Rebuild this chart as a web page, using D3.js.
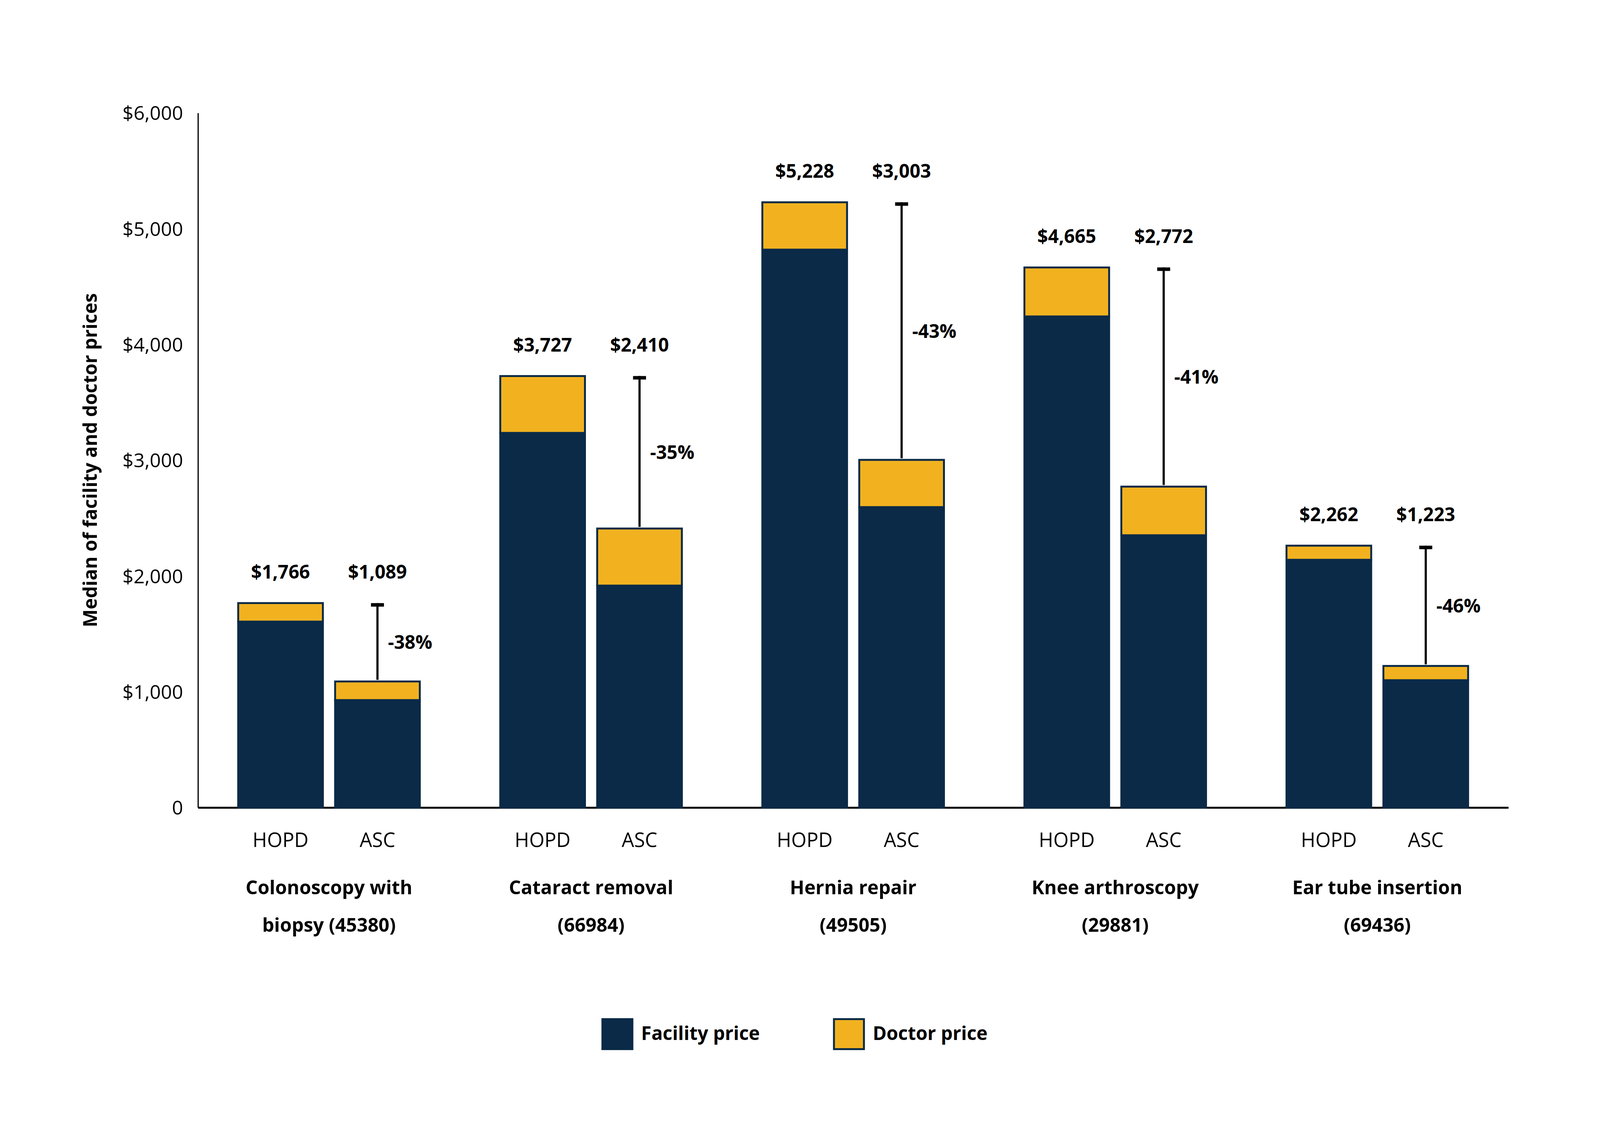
<!DOCTYPE html>
<html>
<head>
<meta charset="utf-8">
<script src="https://cdn.jsdelivr.net/npm/d3@7"></script>
<style>
  html, body { margin: 0; padding: 0; background: #ffffff; width: 100%; height: 100%; overflow: hidden; }
  svg { display: block; }
  text { font-family: "Open Sans", "Noto Sans", sans-serif; fill: #000; }
</style>
</head>
<body>
<svg id="chart"></svg>
<script>
// ---------- DATA ----------
const procedures = [
  ["Colonoscopy with", "biopsy (45380)"],
  ["Cataract removal", "(66984)"],
  ["Hernia repair", "(49505)"],
  ["Knee arthroscopy", "(29881)"],
  ["Ear tube insertion", "(69436)"]
];
const settings = ["HOPD", "ASC"];
const hopdFacility = [1606, 3236, 4819, 4242, 2140];
const hopdDoctor   = [160, 491, 409, 423, 122];
const ascFacility  = [928, 1917, 2595, 2352, 1100];
const ascDoctor    = [161, 493, 408, 420, 123];
const yTicks = [0, 1000, 2000, 3000, 4000, 5000, 6000];
const seriesNames = ["Facility price", "Doctor price"];

// ---------- LAYOUT (design space 6668 x 2918, scaled to the actual window) ----------
const NAVY = "#0a2a47";
const GOLD = "#f2b220";
const W = window.innerWidth || 6668, H = window.innerHeight || 2918;
const sx = W / 6668, sy = H / 2918, fs = sx;
const X = v => v * sx, Y = v => v * sy;

const svg = d3.select("#chart").attr("width", W).attr("height", H);
svg.append("rect").attr("width", W).attr("height", H).attr("fill", "#fff");

const plotLeft = X(825), plotRight = X(6286), plotTop = Y(289), plotBottom = Y(2067);

const groupIdx = procedures.map((d, i) => i);
const x = d3.scaleBand().domain(groupIdx).range([plotLeft, plotRight])
  .paddingInner(0.307).paddingOuter(0.1535);
const xi = d3.scaleBand().domain(settings).range([0, x.bandwidth()]).paddingInner(0.126).paddingOuter(0);
const y = d3.scaleLinear().domain([0, 6000]).range([plotBottom, plotTop]);

const rows = groupIdx.map(i => ({
  i,
  bars: [
    { setting: "HOPD", facility: hopdFacility[i], doctor: hopdDoctor[i] },
    { setting: "ASC", facility: ascFacility[i], doctor: ascDoctor[i] }
  ]
}));
rows.forEach(r => r.bars.forEach(b => b.total = b.facility + b.doctor));

const CAP = "0.357em"; // shift so that caps are vertically centred on y

// ---------- AXES ----------
const yAxis = d3.axisLeft(y).tickValues(yTicks)
  .tickFormat(d => d === 0 ? "0" : "$" + d3.format(",")(d))
  .tickSize(0).tickSizeOuter(0).tickPadding(X(62));
const gy = svg.append("g").attr("transform", `translate(${plotLeft},0)`).call(yAxis);
gy.select(".domain").attr("stroke", "#000").attr("stroke-width", 5 * fs);
gy.selectAll(".tick text")
  .style("font-family", '"Open Sans", sans-serif')
  .attr("font-size", 81 * fs).attr("font-weight", 500).attr("fill", "#000").attr("dy", CAP);

const xAxis = d3.axisBottom(x).tickSize(0).tickSizeOuter(0).tickFormat("");
const gx = svg.append("g").attr("transform", `translate(0,${plotBottom})`).call(xAxis);
gx.select(".domain").attr("stroke", "#000").attr("stroke-width", 5 * Math.max(sy, fs) );

svg.append("text")
  .attr("transform", `translate(${X(375)},${Y(1178)}) rotate(-90)`)
  .attr("text-anchor", "middle").attr("dy", CAP)
  .attr("font-size", 79 * fs).attr("font-weight", 700)
  .text("Median of facility and doctor prices");

// ---------- BARS ----------
const groups = svg.append("g").selectAll("g.grp").data(rows).join("g")
  .attr("class", "grp").attr("transform", d => `translate(${x(d.i)},0)`);

const bar = groups.selectAll("g.bar").data(d => d.bars).join("g").attr("class", "bar");

bar.append("rect")
  .attr("x", d => xi(d.setting)).attr("width", xi.bandwidth())
  .attr("y", d => y(d.facility)).attr("height", d => y(0) - y(d.facility))
  .attr("fill", NAVY).attr("stroke", NAVY).attr("stroke-width", 8 * fs);

bar.append("rect")
  .attr("x", d => xi(d.setting)).attr("width", xi.bandwidth())
  .attr("y", d => y(d.total)).attr("height", d => y(d.facility) - y(d.total))
  .attr("fill", GOLD).attr("stroke", NAVY).attr("stroke-width", 8 * fs);

bar.append("text")
  .attr("x", d => xi(d.setting) + xi.bandwidth() / 2)
  .attr("y", Y(2150)).attr("dy", CAP).attr("text-anchor", "middle")
  .attr("font-size", 82 * fs).attr("font-weight", 400)
  .text(d => d.setting);

groups.each(function(r) {
  const g = d3.select(this);
  const hop = r.bars[0], asc = r.bars[1];
  const labelY = y(hop.total) - Y(80);
  r.bars.forEach(b => {
    g.append("text")
      .attr("x", xi(b.setting) + xi.bandwidth() / 2)
      .attr("y", labelY).attr("dy", CAP).attr("text-anchor", "middle")
      .attr("font-size", 78 * fs).attr("font-weight", 700)
      .text("$" + d3.format(",")(b.total));
  });
  const cx = xi("ASC") + xi.bandwidth() / 2;
  const capW = Y(9);
  g.append("line").attr("x1", cx).attr("x2", cx)
    .attr("y1", y(asc.total) - Y(4)).attr("y2", y(hop.total))
    .attr("stroke", "#000").attr("stroke-width", X(9));
  g.append("line").attr("x1", cx - X(27)).attr("x2", cx + X(27))
    .attr("y1", y(hop.total) + capW / 2).attr("y2", y(hop.total) + capW / 2)
    .attr("stroke", "#000").attr("stroke-width", capW);
  const pct = Math.round((asc.total / hop.total - 1) * 100);
  g.append("text")
    .attr("x", cx + X(44)).attr("y", (y(asc.total) + y(hop.total)) / 2).attr("dy", CAP)
    .attr("font-size", 78 * fs).attr("font-weight", 700)
    .text(pct + "%");
  const gc = x.bandwidth() / 2;
  procedures[r.i].forEach((ln, k) => {
    g.append("text").attr("x", gc).attr("y", Y(2272 + k * 96)).attr("dy", CAP)
      .attr("text-anchor", "middle")
      .attr("font-size", 79 * fs).attr("font-weight", 700)
      .text(ln);
  });
});

// ---------- LEGEND ----------
const legend = svg.append("g");
const legendItems = [
  { name: seriesNames[0], fill: NAVY, cx: 2573 },
  { name: seriesNames[1], fill: GOLD, cx: 3538 }
];
const sw = 98 * Math.sqrt(sx * sy);
legendItems.forEach(it => {
  legend.append("rect")
    .attr("x", X(it.cx) - sw / 2).attr("y", Y(2647) - sw / 2)
    .attr("width", sw).attr("height", sw)
    .attr("fill", it.fill).attr("stroke", NAVY).attr("stroke-width", 8 * fs);
  legend.append("text").attr("x", X(it.cx + 99)).attr("y", Y(2645)).attr("dy", CAP)
    .attr("font-size", 78 * fs).attr("font-weight", 700).text(it.name);
});
</script>
</body>
</html>
